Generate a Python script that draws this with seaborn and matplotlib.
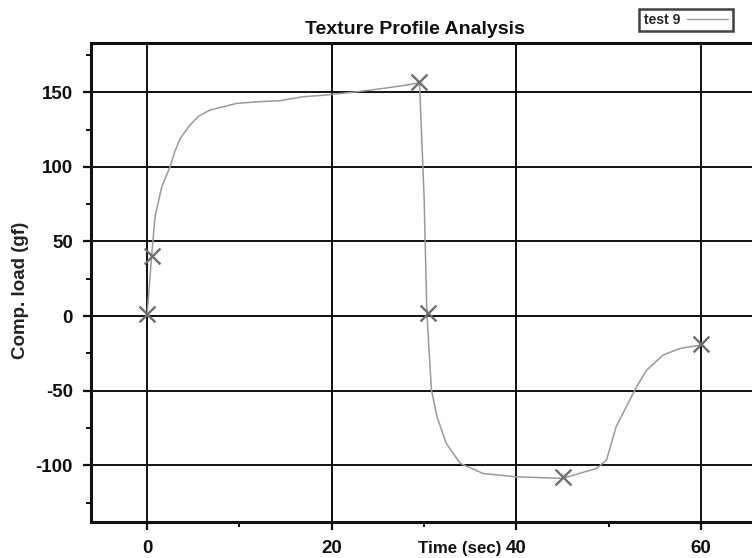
import matplotlib
matplotlib.use("Agg")
import matplotlib.pyplot as plt
import seaborn as sns
import pandas as pd
from matplotlib.ticker import MultipleLocator

# ---- data ----
time = [0.0, 0.5, 0.87, 1.6, 2.5, 3.0, 3.6, 4.65, 5.6, 6.8, 9.7, 11.9, 14.4, 16.9, 19.1,
        22.7, 25.6, 28.1, 29.5, 30.0, 30.3, 30.6, 30.8, 31.4, 32.4, 33.9, 36.4,
        40.0, 45.0, 48.7, 49.75, 50.8, 53.0, 54.1, 55.9, 57.7, 60.0]
load = [0, 40, 66.5, 86.7, 100, 110, 119, 128, 134, 138, 142.5, 143.6, 144.3, 147, 148,
        150.3, 152.6, 154.8, 156.4, 80, 2, -29.5, -49.6, -67.5, -85.3, -98.7, -105.5,
        -107.7, -108.8, -102, -96.5, -74, -47.4, -36.2, -26, -21.7, -19.4]
marker_time = [0.0, 0.5, 29.5, 30.4, 45.0, 60.0]
marker_load = [1.5, 40, 157, 2, -108, -19]
x_ticks = [0, 20, 40, 60]
y_ticks = [-100, -50, 0, 50, 100, 150]
title = "Texture Profile Analysis"
x_label = "Time (sec)"
y_label = "Comp. load (gf)"
legend_label = "test 9"

sns.set_style("white")
plt.rcParams["font.family"] = ["Liberation Sans", "DejaVu Sans"]
plt.rcParams["axes.unicode_minus"] = False

fig = plt.figure(figsize=(7.52, 5.58), dpi=100)
ax = fig.add_axes([91/752, 1 - 522/558, (752 - 91)/752, (522 - 43)/558])

df = pd.DataFrame({"time": time, "load": load})
mk = pd.DataFrame({"time": marker_time, "load": marker_load})

sns.lineplot(data=df, x="time", y="load", ax=ax, color="#9a9a9a", linewidth=1.1,
             sort=False, estimator=None, zorder=3)
sns.scatterplot(data=mk, x="time", y="load", ax=ax, marker="x", s=130,
                color="#6e6e6e", linewidth=1.7, zorder=4)

ax.set_xlim(-6.06, 65.5)
ax.set_ylim(-138, 183)
ax.set_xticks(x_ticks)
ax.set_yticks(y_ticks)
ax.xaxis.set_minor_locator(MultipleLocator(10))
ax.yaxis.set_minor_locator(MultipleLocator(25))
ax.grid(True, which="major", color="#111111", linewidth=1.4)
ax.set_axisbelow(True)

for s in ["left", "bottom", "top"]:
    ax.spines[s].set_color("#111111")
    ax.spines[s].set_linewidth(2.2)
ax.spines["right"].set_visible(False)

ax.tick_params(axis="both", which="major", direction="out", length=6, width=1.6,
               color="#111111", labelsize=13.5, pad=6, bottom=True, left=True)
ax.tick_params(axis="both", which="minor", direction="out", length=3.5, width=1.4,
               color="#111111", bottom=True, left=True)
ax.tick_params(axis="y", which="major", pad=7)
ax.tick_params(axis="x", which="major", pad=7)
for lab in ax.get_xticklabels() + ax.get_yticklabels():
    lab.set_fontweight("bold")
    lab.set_color("#111111")

ax.set_xlabel("")
ax.set_ylabel("")
fig.text(21/752, 1 - 290/558, y_label, ha="center", va="center", rotation=90,
         fontsize=13.5, fontweight="bold", color="#222222")
fig.text(460/752, 1 - 549/558, x_label, ha="center", va="center",
         fontsize=12.2, fontweight="bold", color="#111111")
fig.text(415/752, 1 - 30/558, title, ha="center", va="center",
         fontsize=14, fontweight="bold", color="#111111")

# legend box
ax.plot([], [], color="#9a9a9a", linewidth=1.0, label=legend_label)
leg = ax.legend(loc="center", bbox_to_anchor=(686/752, 1 - 20/558),
                bbox_transform=fig.transFigure, fontsize=10, frameon=True,
                fancybox=False, handlelength=3.0, borderpad=0.3,
                handletextpad=0.5, markerfirst=False)
leg.get_frame().set_edgecolor("#111111")
leg.get_frame().set_linewidth(1.8)
for t in leg.get_texts():
    t.set_fontweight("bold")

fig.savefig("out.png", dpi=100)
